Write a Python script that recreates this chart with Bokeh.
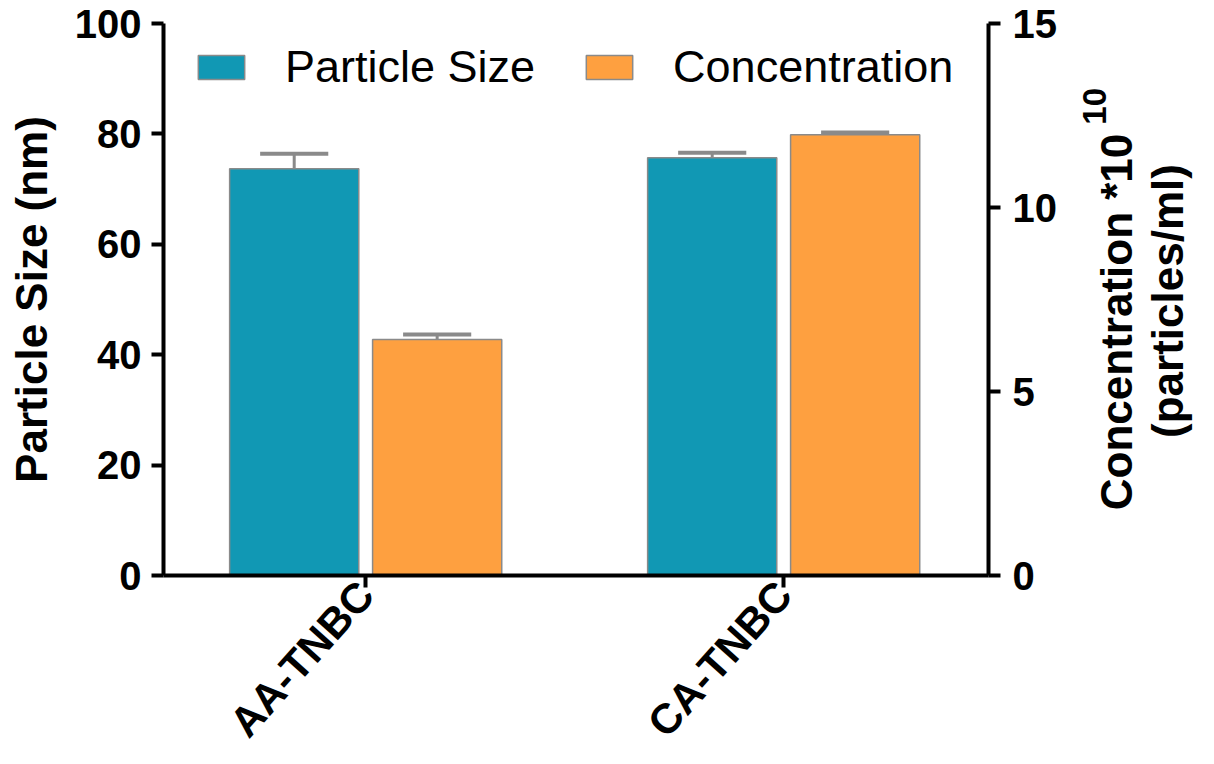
import math
from bokeh.plotting import figure
from bokeh.layouts import row
from bokeh.models import Range1d, LinearAxis, FixedTicker, Legend, LegendItem, ColumnDataSource
from bokeh.core.properties import value
from bokeh.embed import file_html
from bokeh.resources import INLINE

categories = ["AA-TNBC", "CA-TNBC"]
size_vals = [73.7, 75.7]
size_err = [2.7, 0.9]
conc_vals = [6.41, 11.98]
conc_err = [0.14, 0.06]
left_ticks = [0, 20, 40, 60, 80, 100]
right_ticks = [0, 5, 10, 15]
right_title = ["Concentration *10", "10", "(particles/ml)"]

TEAL = "#1198b4"
ORANGE = "#fea040"
EDGE = "#8a8a8a"
FONT = "Liberation Sans"

off = 0.171
bw = 0.309
cap = 0.163
idx = list(range(len(categories)))

p = figure(width=1080, height=764, output_backend="svg", toolbar_location=None,
           x_range=Range1d(-0.4837, 1.490), y_range=Range1d(0, 100),
           min_border_left=163, min_border_right=92, min_border_top=23, min_border_bottom=188)
p.extra_y_ranges = {"conc": Range1d(0, 15)}
p.grid.visible = False
p.outline_line_color = None
p.background_fill_color = "white"
p.border_fill_color = "white"

s_src = ColumnDataSource(dict(x=[i - off for i in idx], top=size_vals,
                              up=[v + e for v, e in zip(size_vals, size_err)],
                              x0=[i - off - cap / 2 for i in idx], x1=[i - off + cap / 2 for i in idx]))
c_src = ColumnDataSource(dict(x=[i + off for i in idx], top=conc_vals,
                              up=[v + e for v, e in zip(conc_vals, conc_err)],
                              x0=[i + off - cap / 2 for i in idx], x1=[i + off + cap / 2 for i in idx]))

p.segment(x0="x", y0="top", x1="x", y1="up", source=s_src, line_color=EDGE, line_width=3)
p.segment(x0="x0", y0="up", x1="x1", y1="up", source=s_src, line_color=EDGE, line_width=4)
p.segment(x0="x", y0="top", x1="x", y1="up", source=c_src, line_color=EDGE, line_width=3, y_range_name="conc")
p.segment(x0="x0", y0="up", x1="x1", y1="up", source=c_src, line_color=EDGE, line_width=4, y_range_name="conc")

r1 = p.vbar(x="x", top="top", bottom=0, width=bw, source=s_src, fill_color=TEAL, line_color=EDGE, line_width=1.5)
r2 = p.vbar(x="x", top="top", bottom=0, width=bw, source=c_src, fill_color=ORANGE, line_color=EDGE, line_width=1.5,
            y_range_name="conc")

def style_axis(ax, size="40px"):
    ax.axis_line_width = 4
    ax.axis_line_color = "black"
    ax.major_tick_line_width = 4
    ax.major_tick_line_color = "black"
    ax.major_tick_out = 12
    ax.major_tick_in = 0
    ax.minor_tick_line_color = None
    ax.major_label_text_font = FONT
    ax.major_label_text_font_style = "bold"
    ax.major_label_text_font_size = size
    ax.major_label_text_color = "black"
    ax.axis_label_text_font = FONT
    ax.axis_label_text_font_style = "bold"
    ax.axis_label_text_font_size = "44px"
    ax.axis_label_text_color = "black"

yl = p.yaxis[0]
yl.ticker = FixedTicker(ticks=left_ticks)
yl.axis_label = "Particle Size (nm)"
style_axis(yl)
yl.major_label_standoff = 10
yl.axis_label_standoff = 16

yr = LinearAxis(y_range_name="conc", ticker=FixedTicker(ticks=right_ticks))
style_axis(yr)
yr.major_label_standoff = 12
p.add_layout(yr, "right")

xa = p.xaxis[0]
xa.ticker = FixedTicker(ticks=idx)
xa.major_label_overrides = {i: c for i, c in zip(idx, categories)}
style_axis(xa, size="42px")
xa.major_label_orientation = 0.84
xa.major_label_standoff = 0

legend = Legend(items=[LegendItem(label="Particle Size", renderers=[r1]),
                       LegendItem(label="Concentration", renderers=[r2])],
                orientation="horizontal", location=(29, 482))
legend.border_line_color = None
legend.background_fill_alpha = 0
legend.padding = 0
legend.margin = 0
legend.spacing = 45
legend.glyph_width = 58
legend.glyph_height = 30
legend.label_standoff = 35
legend.label_text_font = FONT
legend.label_text_font_size = "45px"
legend.label_text_color = "black"
p.add_layout(legend)

# right-hand panel holding the rotated right-axis title (reads bottom-to-top, with superscript).
# Its frame is aligned with the main frame (23..576 px), so this y range maps 1 unit to 1 px.
q = figure(width=134, height=764, output_backend="svg", toolbar_location=None,
           x_range=Range1d(0, 134), y_range=Range1d(188, 741),
           min_border_left=0, min_border_right=0, min_border_top=0, min_border_bottom=0)
q.axis.visible = False
q.grid.visible = False
q.outline_line_color = None
q.border_fill_color = "white"
title_src = ColumnDataSource(dict(x=[36, 14, 87], y=[442, 658, 463], text=right_title,
                                  size=["44px", "33px", "44px"]))
q.text(x="x", y="y", text="text", source=title_src, angle=math.pi / 2,
       text_font=value(FONT), text_font_style="bold", text_font_size="size",
       text_color="black", text_align="center", text_baseline="alphabetic")

layout = row(p, q, spacing=0)
open("out.html", "w").write(file_html(layout, INLINE))
